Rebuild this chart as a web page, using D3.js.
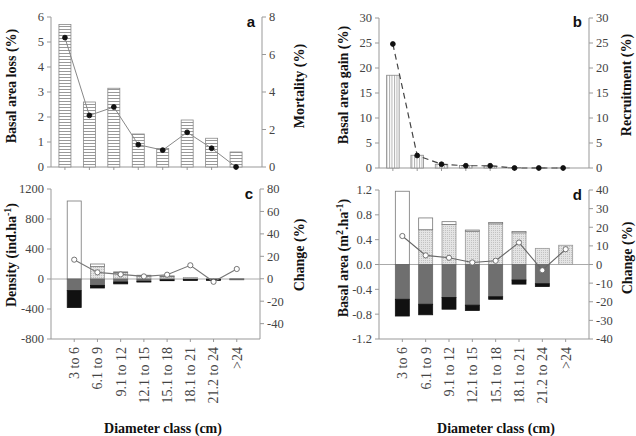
<!DOCTYPE html>
<html>
<head>
<meta charset="utf-8">
<script src="https://cdn.jsdelivr.net/npm/d3@7"></script>
<style>
  body { margin: 0; background: #fff; }
  svg { display: block; }
  .tick-label { font-family: "Liberation Serif", "Times New Roman", serif; font-size: 12.5px; fill: #444; }
  .cat-label { font-family: "Liberation Serif", "Times New Roman", serif; font-size: 14px; fill: #444; }
  .title { font-family: "Liberation Serif", "Times New Roman", serif; font-size: 14px; font-weight: bold; fill: #111; }
  .panel-letter { font-family: "Liberation Sans", Arial, sans-serif; font-size: 15px; font-weight: bold; fill: #111; }
</style>
</head>
<body>
<div id="chart"></div>
<script>
// diameter classes
const cats = ["3 to 6", "6.1 to 9", "9.1 to 12", "12.1 to 15", "15.1 to 18", "18.1 to 21", "21.2 to 24", ">24"];

// panel a
const baLoss = [5.7, 2.6, 3.15, 1.32, 0.74, 1.88, 1.15, 0.6];
const mortality = [6.9, 2.75, 3.2, 1.19, 0.9, 1.85, 1.0, 0];
// panel b
const baGain = [18.55, 2.55, 0.75, 0.5, 0.4, 0.1, 0.05, 0.02];
const recruitment = [24.8, 2.5, 0.75, 0.45, 0.45, 0, 0, 0];
// panel c (ind/ha) - white, dotted above zero; gray, black below
const densRecruit = [1040, 35, 10, 5, 2, 0, 0, 0];
const densIn = [0, 165, 85, 45, 38, 20, 4, 5];
const densOut = [155, 85, 40, 30, 12, 8, 6, 3];
const densDead = [225, 35, 25, 10, 3, 4, 12, 0];
const densChange = [17, 5.7, 3.9, 2.1, 3.6, 12, -2.7, 8.7];
// panel d (m2/ha)
const baRecruit = [1.18, 0.19, 0.045, 0.02, 0.02, 0.02, 0, 0];
const baIn = [0, 0.56, 0.645, 0.535, 0.655, 0.51, 0.26, 0.31];
const baOut = [0.56, 0.64, 0.53, 0.655, 0.52, 0.25, 0.31, 0];
const baDead = [0.27, 0.17, 0.19, 0.085, 0.04, 0.066, 0.045, 0];
const baChange = [15.3, 4.9, 3.6, 1.1, 2, 11.8, -3.1, 8.2];

// tick values
const ticksA = [0, 1, 2, 3, 4, 5, 6];
const ticksAR = [0, 2, 4, 6, 8];
const ticksB = [0, 5, 10, 15, 20, 25, 30];
const ticksC = [-800, -400, 0, 400, 800, 1200];
const ticksCR = [-40, -20, 0, 20, 40, 60, 80];
const ticksD = [-1.2, -0.8, -0.4, 0, 0.4, 0.8, 1.2];
const ticksDR = [-40, -30, -20, -10, 0, 10, 20, 30, 40];

const W = 636, H = 436;
const axisColor = "#999";

const svg = d3.select("#chart").append("svg")
    .attr("width", W)
    .attr("height", H);

svg.append("rect").attr("width", W).attr("height", H).attr("fill", "#fff");

// patterns
const defs = svg.append("defs");
let p = defs.append("pattern").attr("id", "hstripe").attr("patternUnits", "userSpaceOnUse")
    .attr("width", 4).attr("height", 3);
p.append("rect").attr("width", 4).attr("height", 3).attr("fill", "#fff");
p.append("line").attr("x1", 0).attr("x2", 4).attr("y1", 0.5).attr("y2", 0.5)
    .attr("stroke", "#999").attr("stroke-width", 1);

p = defs.append("pattern").attr("id", "vstripe").attr("patternUnits", "userSpaceOnUse")
    .attr("width", 2.5).attr("height", 4);
p.append("rect").attr("width", 2.5).attr("height", 4).attr("fill", "#fff");
p.append("line").attr("x1", 0.5).attr("x2", 0.5).attr("y1", 0).attr("y2", 4)
    .attr("stroke", "#aaa").attr("stroke-width", 0.9);

p = defs.append("pattern").attr("id", "dots").attr("patternUnits", "userSpaceOnUse")
    .attr("width", 2).attr("height", 2);
p.append("rect").attr("width", 2).attr("height", 2).attr("fill", "#e4e4e4");
p.append("rect").attr("x", 0).attr("y", 0).attr("width", 1).attr("height", 1).attr("fill", "#c2c2c2");

// fmt with plain hyphen
const fmtInt = d => String(d);
const fmt1 = d => (Math.abs(d) < 1e-9 ? 0 : d).toFixed(1);

function makePanel(cfg) {
    const g = svg.append("g").attr("transform", "translate(" + cfg.left + "," + cfg.top + ")");
    const w = cfg.width, h = cfg.height;

    const x = d3.scalePoint().domain(cats).range(cfg.xRange(w)).padding(cfg.xPad);
    const y = d3.scaleLinear().domain(cfg.yDomain).range([h, 0]);
    const y2 = d3.scaleLinear().domain(cfg.y2Domain).range([h, 0]);

    // axis lines
    g.append("line").attr("x1", 0).attr("x2", 0).attr("y1", 0).attr("y2", h).attr("stroke", axisColor);
    g.append("line").attr("x1", w).attr("x2", w).attr("y1", 0).attr("y2", h).attr("stroke", axisColor);
    g.append("line").attr("x1", 0).attr("x2", w).attr("y1", h).attr("y2", h).attr("stroke", axisColor);

    // left ticks
    cfg.yTicks.forEach(t => {
        g.append("line").attr("x1", -4).attr("x2", 0).attr("y1", y(t)).attr("y2", y(t)).attr("stroke", axisColor);
        g.append("text").attr("class", "tick-label").attr("x", -7).attr("y", y(t)).attr("dy", "0.35em")
            .attr("text-anchor", "end").text(cfg.yFmt(t));
    });
    cfg.y2Ticks.forEach(t => {
        g.append("line").attr("x1", w).attr("x2", w + 4).attr("y1", y2(t)).attr("y2", y2(t)).attr("stroke", axisColor);
        g.append("text").attr("class", "tick-label").attr("x", w + 7).attr("y", y2(t)).attr("dy", "0.35em")
            .attr("text-anchor", "start").text(fmtInt(t));
    });
    cats.forEach(c => {
        g.append("line").attr("x1", x(c)).attr("x2", x(c)).attr("y1", h).attr("y2", h + 3).attr("stroke", axisColor);
    });

    if (cfg.zeroLine) {
        g.append("line").attr("x1", 0).attr("x2", w).attr("y1", y(0)).attr("y2", y(0)).attr("stroke", "#aaa");
    }

    // bars
    const bw = cfg.barWidth;
    if (cfg.bars) {
        g.selectAll(".bar").data(cfg.bars).join("rect")
            .attr("x", (d, i) => x(cats[i]) - bw / 2)
            .attr("y", d => y(d))
            .attr("width", bw)
            .attr("height", d => y(0) - y(d))
            .attr("fill", cfg.barFill)
            .attr("stroke", "#888")
            .attr("stroke-width", 0.8);
    }
    if (cfg.stacks) {
        cfg.stacks.forEach((st, i) => {
            let segs = [
                [0, st.up, "url(#dots)", "#999"],
                [st.up, st.up + st.top, "#fff", "#777"],
                [0, -st.down, "#6f6f6f", "#666"],
                [-st.down, -st.down - st.dead, "#111", "#111"]
            ];
            segs.forEach(s => {
                if (Math.abs(s[1] - s[0]) <= 0) return;
                const y0 = y(Math.max(s[0], s[1])), y1 = y(Math.min(s[0], s[1]));
                g.append("rect")
                    .attr("x", x(cats[i]) - bw / 2)
                    .attr("y", y0)
                    .attr("width", bw)
                    .attr("height", Math.max(y1 - y0, 0.8))
                    .attr("fill", s[2])
                    .attr("stroke", s[3])
                    .attr("stroke-width", 0.8);
            });
        });
    }

    // line series on right axis
    const line = d3.line().x((d, i) => x(cats[i])).y(d => y2(d));
    g.append("path").datum(cfg.line)
        .attr("d", line)
        .attr("fill", "none")
        .attr("stroke", cfg.lineColor)
        .attr("stroke-width", cfg.lineWidth)
        .attr("stroke-dasharray", cfg.dash || null);
    g.selectAll(".pt").data(cfg.line).join("circle")
        .attr("cx", (d, i) => x(cats[i]))
        .attr("cy", d => y2(d))
        .attr("r", cfg.openDots ? 2.6 : 2.4)
        .attr("fill", cfg.openDots ? "#fff" : "#111")
        .attr("stroke", cfg.openDots ? "#666" : "#111")
        .attr("stroke-width", 0.9);

    // panel letter
    g.append("text").attr("class", "panel-letter")
        .attr("x", w - 7).attr("y", cfg.letterY).attr("text-anchor", "end").text(cfg.letter);

    // axis titles
    const lt = svg.append("text").attr("class", "title")
        .attr("transform", "translate(" + cfg.leftTitleX + "," + cfg.titleY + ") rotate(-90)")
        .attr("text-anchor", "middle").attr("dy", "0.35em");
    cfg.leftTitle.forEach(part => {
        const ts = lt.append("tspan").text(part.t);
        if (part.sup) ts.attr("baseline-shift", "super").attr("font-size", "10px");
    });
    svg.append("text").attr("class", "title")
        .attr("transform", "translate(" + cfg.rightTitleX + "," + cfg.titleY + ") rotate(-90)")
        .attr("text-anchor", "middle").attr("dy", "0.35em")
        .text(cfg.rightTitle);

    // category labels
    if (cfg.catLabels) {
        cats.forEach(c => {
            svg.append("text").attr("class", "cat-label")
                .attr("transform", "translate(" + (cfg.left + x(c)) + "," + (cfg.top + h + 8) + ") rotate(-90)")
                .attr("text-anchor", "end").attr("dy", "0.35em")
                .text(c);
        });
        svg.append("text").attr("class", "title")
            .attr("x", cfg.xTitleX).attr("y", 433)
            .attr("text-anchor", "middle")
            .text("Diameter class (cm)");
    }
}

const abRange = w => [0, w - 12];

makePanel({
    left: 51, top: 17, width: 211, height: 150,
    xRange: abRange, xPad: 0.57,
    yDomain: [0, 6], y2Domain: [0, 8],
    yTicks: ticksA, y2Ticks: ticksAR, yFmt: fmtInt,
    bars: baLoss, barFill: "url(#hstripe)", barWidth: 12,
    line: mortality, lineColor: "#888", lineWidth: 1,
    letter: "a", letterY: 10,
    leftTitle: [{t: "Basal area loss (%)"}], rightTitle: "Mortality (%)",
    leftTitleX: 11, rightTitleX: 299, titleY: 86
});

makePanel({
    left: 379, top: 18, width: 210, height: 150,
    xRange: abRange, xPad: 0.57,
    yDomain: [0, 30], y2Domain: [0, 30],
    yTicks: ticksB, y2Ticks: ticksB, yFmt: fmtInt,
    bars: baGain, barFill: "url(#vstripe)", barWidth: 12.5,
    line: recruitment, lineColor: "#444", lineWidth: 1.2, dash: "6,4",
    letter: "b", letterY: 9,
    leftTitle: [{t: "Basal area gain (%)"}], rightTitle: "Recruitment (%)",
    leftTitleX: 343, rightTitleX: 626, titleY: 85
});

const stacksC = cats.map((c, i) => ({up: densIn[i], top: densRecruit[i], down: densOut[i], dead: densDead[i]}));
makePanel({
    left: 51, top: 189, width: 209, height: 150,
    xRange: w => [0, w], xPad: 1,
    yDomain: [-800, 1200], y2Domain: [-53.7, 80],
    yTicks: ticksC, y2Ticks: ticksCR, yFmt: fmtInt,
    stacks: stacksC, barWidth: 14, zeroLine: true,
    line: densChange, lineColor: "#777", lineWidth: 1.1, openDots: true,
    letter: "c", letterY: 10,
    leftTitle: [{t: "Density (ind.ha"}, {t: "-1", sup: true}, {t: ")"}], rightTitle: "Change (%)",
    leftTitleX: 11, rightTitleX: 299, titleY: 255,
    catLabels: true, xTitleX: 163
});

const stacksD = cats.map((c, i) => ({up: baIn[i], top: baRecruit[i], down: baOut[i], dead: baDead[i]}));
makePanel({
    left: 379, top: 190, width: 210, height: 149,
    xRange: w => [0, w], xPad: 1,
    yDomain: [-1.2, 1.2], y2Domain: [-40, 40],
    yTicks: ticksD, y2Ticks: ticksDR, yFmt: fmt1,
    stacks: stacksD, barWidth: 14, zeroLine: true,
    line: baChange, lineColor: "#666", lineWidth: 1.1, openDots: true,
    letter: "d", letterY: 10,
    leftTitle: [{t: "Basal area (m"}, {t: "2", sup: true}, {t: ".ha"}, {t: "-1", sup: true}, {t: ")"}], rightTitle: "Change (%)",
    leftTitleX: 343, rightTitleX: 627, titleY: 258,
    catLabels: true, xTitleX: 496
});
</script>
</body>
</html>
